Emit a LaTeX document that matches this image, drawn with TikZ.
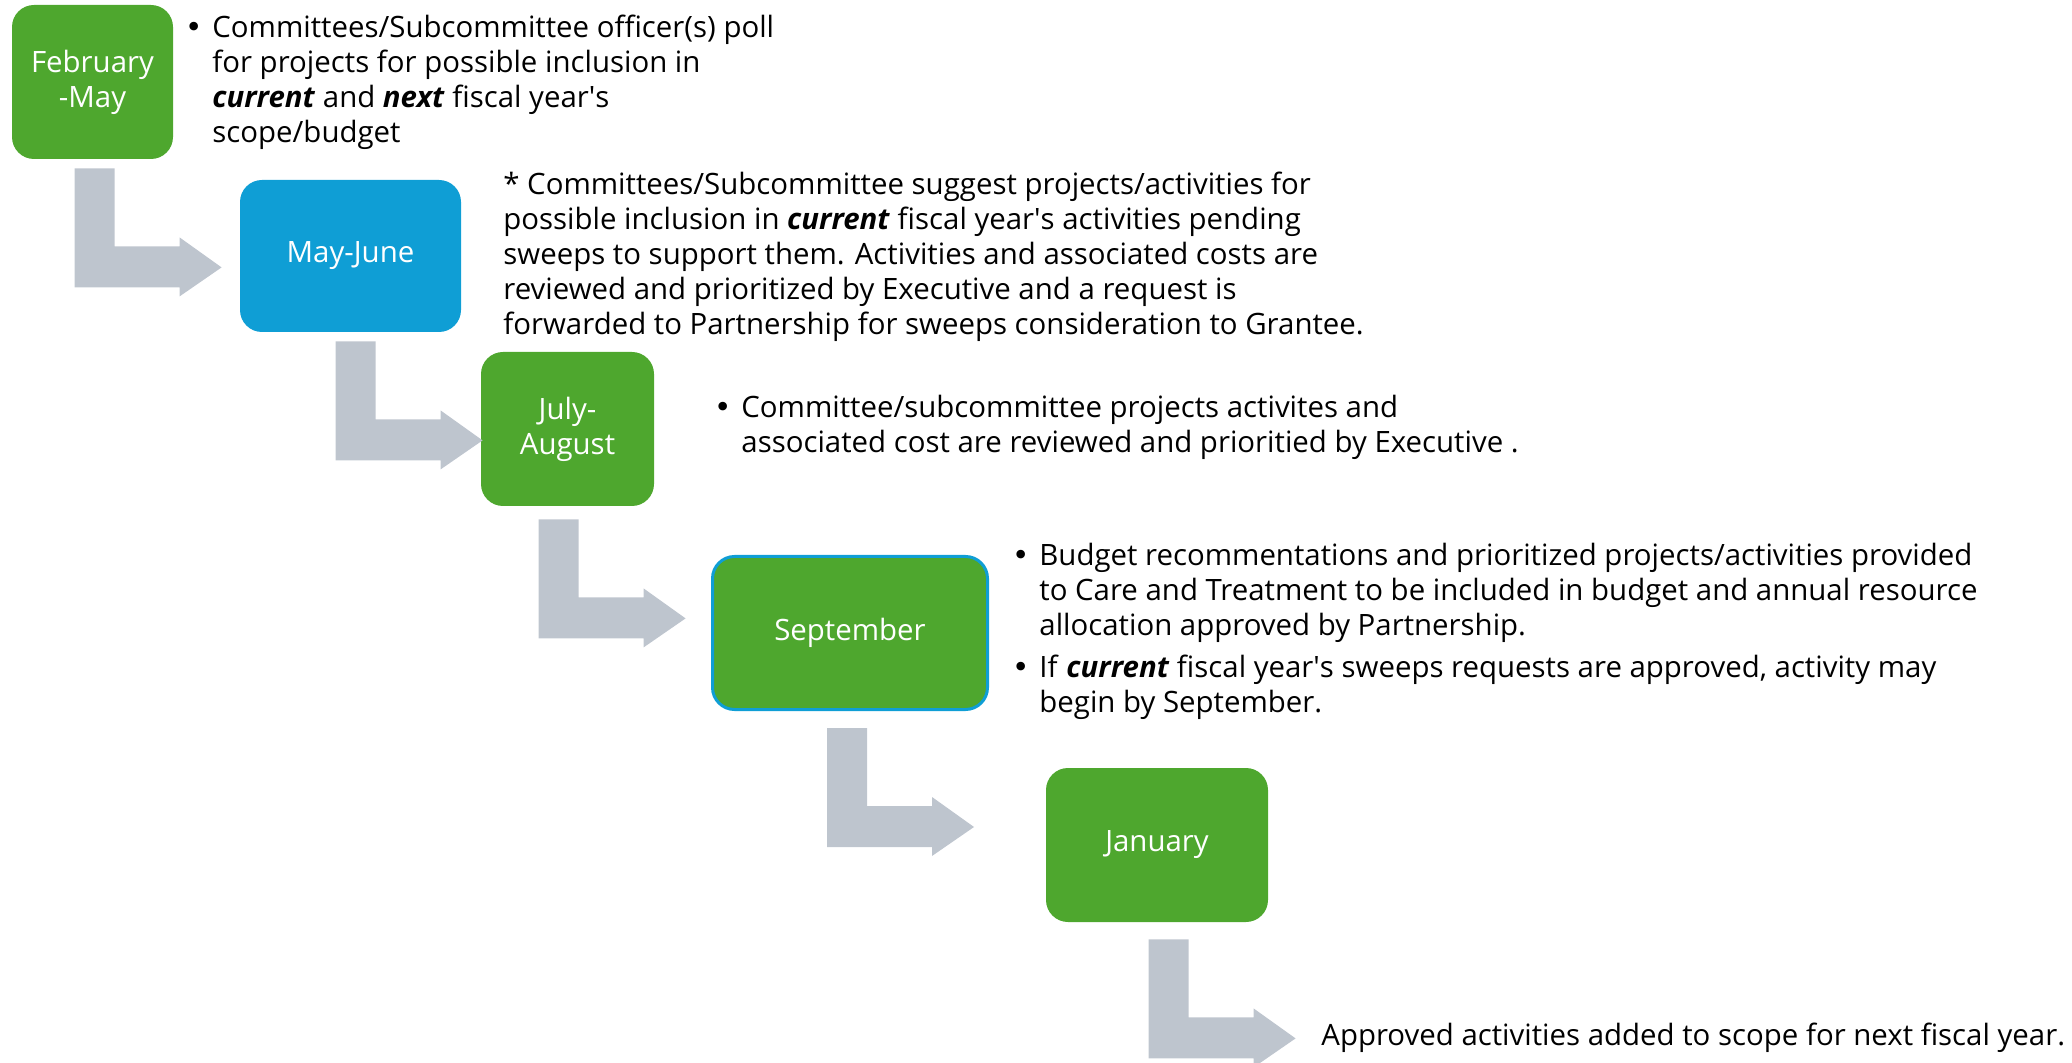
\documentclass[tikz,border=0pt]{standalone}
\usepackage{fontspec}
\setmainfont{Open Sans}[Ligatures={TeX,NoCommon}]
\newfontfamily\bulletfont{DejaVu Sans}
\usetikzlibrary{calc}

\definecolor{stepgreen}{HTML}{4EA72E}
\definecolor{stepblue}{HTML}{0F9ED5}
\definecolor{flowgray}{RGB}{190,197,206}

\newcommand\apos{\textquotesingle}
\newcommand\bitword[1]{\textbf{\textit{#1}}}
\newcommand\blt{\llap{{\bulletfont\char"2022}\hspace{5pt}}}
\newcommand\notelines[1]{\begin{tabular}[t]{@{}l@{}}#1\end{tabular}}
\newcommand\notefont{\fontsize{14.7}{17.5}\selectfont}

\tikzset{
  period/.style={rounded corners=11pt, fill=stepgreen, text=white,
    align=center, inner sep=0pt, font=\notefont},
  note/.style={anchor=base west, inner sep=0pt, font=\notefont},
  pics/bentarrow/.style={code={
    \fill[flowgray] (0,0) -- (40,0) -- (40,78) -- (105,78) -- (105,69)
      -- (147,99) -- (105,128) -- (105,119) -- (0,119) -- cycle;
  }}
}

\begin{document}
\begin{tikzpicture}[x=0.5pt, y=-0.5pt]
  \useasboundingbox (0,0) rectangle (2072,1063);
  \clip (0,0) rectangle (2072,1063);

  % period boxes
  \node[period, minimum width=80.5pt, minimum height=77pt] (b1) at (92.5,82) {February\\-May};
  \node[period, fill=stepblue, minimum width=110.5pt, minimum height=76pt] (b2) at (350.5,256) {May-June};
  \node[period, minimum width=86.5pt, minimum height=77pt] (b3) at (567.5,429) {July-\\August};
  \node[period, draw=stepblue, line width=1.5pt, minimum width=137.5pt, minimum height=76.5pt] (b4) at (850,633) {September};
  \node[period, minimum width=111pt, minimum height=77pt] (b5) at (1157,845) {January};

  % bent arrows leading from one period to the next
  \pic at ($(b1.south west)+(63,9)$) {bentarrow};
  \pic at ($(b2.south west)+(96,9)$) {bentarrow};
  \pic at ($(b3.south west)+(58,13)$) {bentarrow};
  \pic at ($(b4.south west)+(116,17)$) {bentarrow};
  \pic at ($(b5.south west)+(103,17)$) {bentarrow};

  % descriptions
  \node[note] (t1) at (212,38) {\notelines{%
    \blt Committees/Subcommittee officer(s) poll\\
    for projects for possible inclusion in\\
    \bitword{current} and \bitword{next} fiscal year\apos s\\
    scope/budget}};

  \node[note] (t2) at (503,195) {\notelines{%
    * Committees/Subcommittee suggest projects/activities for\\
    possible inclusion in \bitword{current} fiscal year\apos s activities pending\\
    sweeps to support them. Activities and associated costs are\\
    reviewed and prioritized by Executive and a request is\\
    forwarded to Partnership for sweeps consideration to Grantee.}};

  \node[note] (t3) at (741,418) {\notelines{%
    \blt Committee/subcommittee projects activites and\\
    associated cost are reviewed and prioritied by Executive .}};

  \node[note] (t4a) at (1039,566) {\notelines{%
    \blt Budget recommentations and prioritized projects/activities provided\\
    to Care and Treatment to be included in budget and annual resource\\
    allocation approved by Partnership.}};

  \node[note] (t4b) at (1039,677) {\notelines{%
    \blt If \bitword{current} fiscal year\apos s sweeps requests are approved, activity may\\
    begin by September.}};

  \node[note] (t5) at (1321,1045) {Approved activities added to scope for next fiscal year.};
\end{tikzpicture}
\end{document}
